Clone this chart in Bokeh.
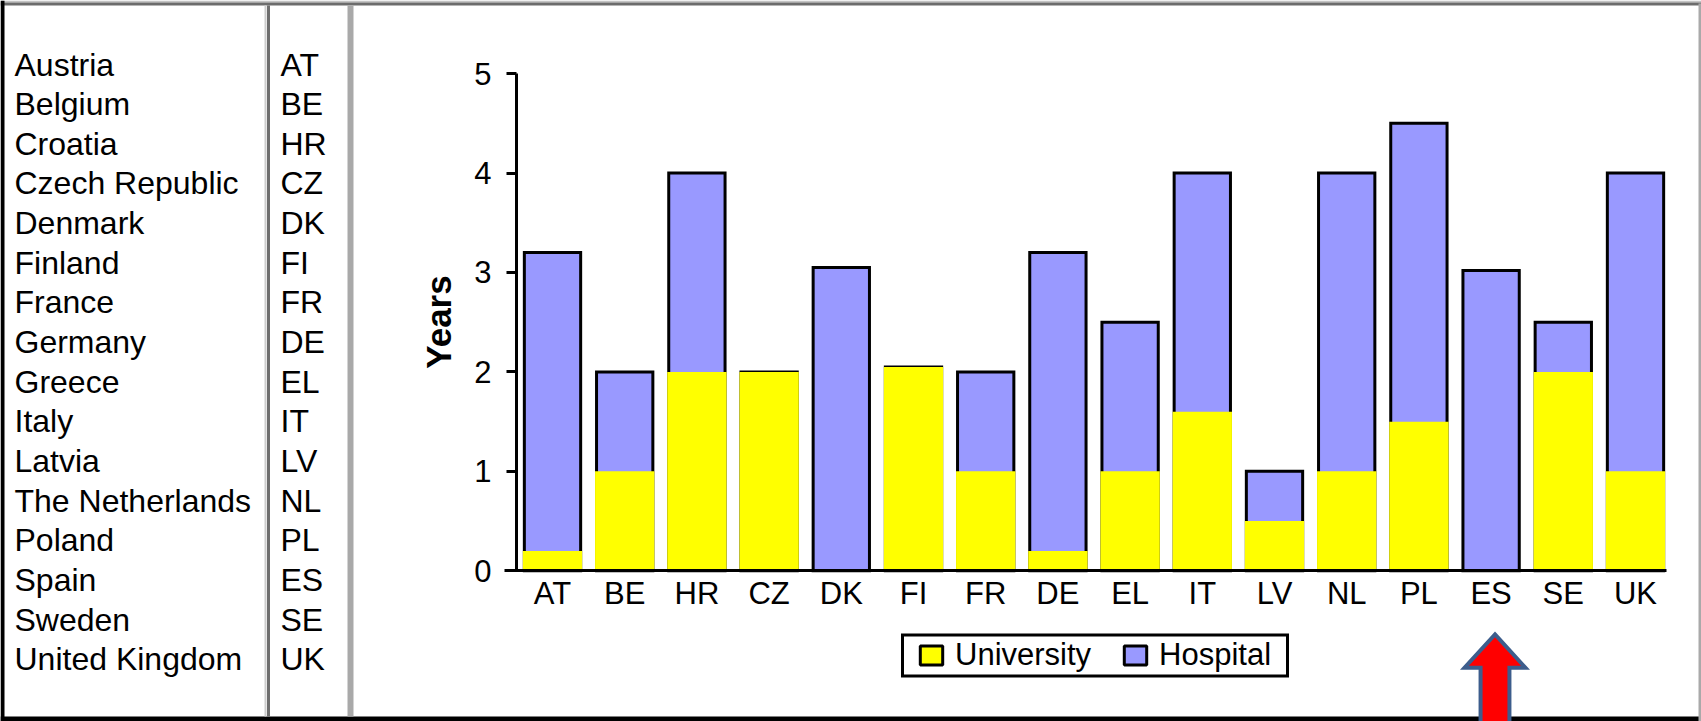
from bokeh.plotting import figure
from bokeh.models import (Range1d, ColumnDataSource, Legend, LegendItem, LinearAxis,
                          FixedTicker)
from bokeh.core.properties import value
from bokeh.embed import file_html
from bokeh.resources import INLINE

# ---------------- data ----------------
country_names = ["Austria", "Belgium", "Croatia", "Czech Republic", "Denmark", "Finland",
                 "France", "Germany", "Greece", "Italy", "Latvia", "The Netherlands",
                 "Poland", "Spain", "Sweden", "United Kingdom"]
codes = ["AT", "BE", "HR", "CZ", "DK", "FI", "FR", "DE", "EL", "IT", "LV", "NL",
         "PL", "ES", "SE", "UK"]
university = [0.2, 1.0, 2.0, 2.0, 0.0, 2.05, 1.0, 0.2, 1.0, 1.6, 0.5, 1.0, 1.5, 0.0, 2.0, 1.0]
hospital = [3.0, 1.0, 2.0, 0.0, 3.05, 0.0, 1.0, 3.0, 1.5, 2.4, 0.5, 3.0, 3.0, 3.02, 0.5, 3.0]
series = ["University", "Hospital"]
y_ticks = [0, 1, 2, 3, 4, 5]
highlight = "ES"

FONT = "Liberation Sans"
YELLOW = "#ffff00"
LAVENDER = "#9999ff"

W, H = 1701, 721

# page is laid out in pixel coordinates; the chart uses its own ranges
# (chart area: category pitch 72.2 px starting at x=552, 99.45 px per year, zero at y=570.3)
CAT0, PITCH = 552.0, 72.2
Y0, PER_YEAR = 570.3, 99.45
chart_x = Range1d(-CAT0 / PITCH, (W - CAT0) / PITCH)
chart_y = Range1d(-(H - Y0) / PER_YEAR, Y0 / PER_YEAR)

p = figure(width=W, height=H, x_range=Range1d(0, W), y_range=Range1d(H, 0),
           output_backend="svg", toolbar_location=None, min_border=0,
           x_axis_location=None, y_axis_location=None)
p.extra_x_ranges = {"cat": chart_x}
p.extra_y_ranges = {"years": chart_y}
p.grid.visible = False
p.outline_line_color = None
p.background_fill_color = "white"
p.border_fill_color = "white"

# ---------------- left table ----------------
row_y = [64 + 39.65 * i for i in range(len(country_names))]
p.text(x=[14] * len(country_names), y=row_y, text=country_names,
       text_font=value(FONT), text_font_size="32px", text_color="black",
       text_baseline="alphabetic", text_align="left")
p.text(x=[280] * len(codes), y=row_y, text=codes,
       text_font=value(FONT), text_font_size="32px", text_color="black",
       text_baseline="alphabetic", text_align="left")

# page frame and column separators
p.segment(x0=[0, 0], y0=[1, 3.5], x1=[W, W], y1=[1, 3.5],
          line_color=["#c4c4c4", "#6c6c6c"], line_width=[2, 3])
p.segment(x0=[0], y0=[718.5], x1=[W], y1=[718.5], line_color="black", line_width=5)
p.segment(x0=[2], y0=[0], x1=[2], y1=[H], line_color="black", line_width=4)
p.segment(x0=[W - 1.5], y0=[3], x1=[W - 1.5], y1=[H], line_color="#a9a9a9", line_width=3)
p.segment(x0=[265, 268], y0=[5, 5], x1=[265, 268], y1=[716, 716],
          line_color=["#cdcdcd", "#6e6e6e"], line_width=[2, 3])
p.segment(x0=[350], y0=[5], x1=[350], y1=[716], line_color="#a9a9a9", line_width=6)

# ---------------- stacked bars ----------------
# hospital stacked on university: the outlined bar reaches university + hospital,
# the university part is painted over its lower portion without outline
total = [u + h for u, h in zip(university, hospital)]
source = ColumnDataSource(dict(pos=list(range(len(codes))), code=codes,
                               University=university, Hospital=hospital, total=total))
BAR_W = 0.78
p.vbar(x="pos", bottom=0, top="total", width=BAR_W, source=source,
       fill_color=LAVENDER, line_color="black", line_width=3, line_join="miter",
       x_range_name="cat", y_range_name="years")
p.vbar(x="pos", bottom=0, top="University", width=BAR_W + 3 / PITCH, source=source,
       fill_color=YELLOW, line_color=None,
       x_range_name="cat", y_range_name="years")

# ---------------- axes ----------------
yaxis = LinearAxis(x_range_name="cat", y_range_name="years", fixed_location=-0.5,
                   bounds=(0, 5), ticker=FixedTicker(ticks=y_ticks))
yaxis.axis_label = "Years"
yaxis.axis_label_text_font = FONT
yaxis.axis_label_text_font_style = "bold"
yaxis.axis_label_text_font_size = "35px"
yaxis.axis_label_text_color = "black"
yaxis.axis_label_standoff = 13
yaxis.major_tick_out = 10
yaxis.major_tick_in = 0
yaxis.minor_tick_out = 0
yaxis.minor_tick_in = 0
yaxis.major_label_standoff = 15

xaxis = LinearAxis(x_range_name="cat", y_range_name="years", fixed_location=0,
                   bounds=(-0.665, 15.43),
                   ticker=FixedTicker(ticks=list(range(len(codes)))),
                   major_label_overrides={i: c for i, c in enumerate(codes)})
xaxis.major_tick_out = 0
xaxis.major_tick_in = 0
xaxis.minor_tick_out = 0
xaxis.minor_tick_in = 0
xaxis.major_label_standoff = 5

for ax in (xaxis, yaxis):
    ax.axis_line_color = "black"
    ax.axis_line_width = 3
    ax.major_tick_line_color = "black"
    ax.major_tick_line_width = 3
    ax.major_label_text_font = FONT
    ax.major_label_text_font_size = "31px"
    ax.major_label_text_color = "black"
p.add_layout(yaxis, "left")
p.add_layout(xaxis, "below")

# ---------------- legend ----------------
# legend frame (decoration) and off-canvas proxy glyphs for the swatches
p.quad(left=[902], right=[1287], top=[634.5], bottom=[675.5], fill_color="white",
       line_color="black", line_width=3, line_join="miter")
uni_proxy = p.rect(x=[-1000], y=[-1000], width=1, height=1, fill_color=YELLOW,
                   line_color="black", line_width=3)
hos_proxy = p.rect(x=[-1000], y=[-1000], width=1, height=1, fill_color=LAVENDER,
                   line_color="black", line_width=3)
legend = Legend(items=[LegendItem(label=series[0], renderers=[uni_proxy]),
                       LegendItem(label=series[1], renderers=[hos_proxy])],
                orientation="horizontal", location=(917, 48))
legend.border_line_alpha = 0
legend.background_fill_alpha = 0
legend.label_text_font = FONT
legend.label_text_font_size = "31px"
legend.label_text_color = "black"
legend.glyph_width = 28
legend.glyph_height = 24
legend.label_standoff = 10
legend.spacing = 30
legend.padding = 0
legend.margin = 0
p.add_layout(legend, "center")

# ---------------- arrow under the highlighted country ----------------
cx = codes.index(highlight) + 0.054
arrow_xs = [cx, cx + 0.422, cx + 0.2, cx + 0.2, cx - 0.2, cx - 0.2, cx - 0.422]
arrow_ys = [-0.64, -0.975, -0.975, -1.7, -1.7, -0.975, -0.975]
p.patch(x=arrow_xs, y=arrow_ys, fill_color="#ff0000", line_color="#3d5d8c",
        line_width=4, line_join="miter", x_range_name="cat", y_range_name="years")

open("out.html", "w").write(file_html(p, INLINE))
